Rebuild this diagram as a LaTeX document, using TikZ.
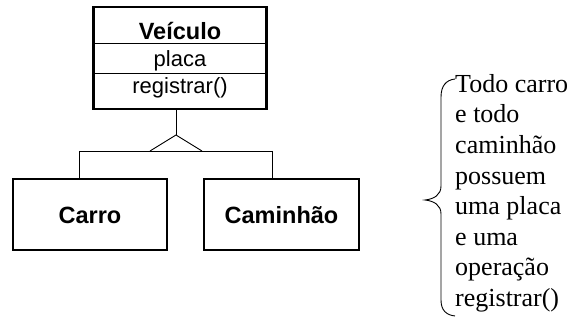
\documentclass[tikz,border=0pt]{standalone}
\usepackage{fontspec}
\setmainfont{Liberation Serif}
\newfontfamily\arialfont{Liberation Sans}
\begin{document}
\begin{tikzpicture}[x=1pt,y=-1pt,
  classbox/.style={draw, line width=2.2pt, rectangle, inner sep=0pt},
  conn/.style={line width=0.9pt},
  boldlbl/.style={font=\arialfont\bfseries\fontsize{23.5}{28}\selectfont, inner sep=0pt, anchor=base},
  reglbl/.style={font=\arialfont\fontsize{22}{26}\selectfont, inner sep=0pt, anchor=base}]
\useasboundingbox (0,0) rectangle (575,323);
% Veiculo class
\node[classbox, minimum width=173pt, minimum height=102pt] (veiculo) at (180,58) {};
\draw[conn] (veiculo.west |- 0,43) -- (veiculo.east |- 0,43);
\draw[conn] (veiculo.west |- 0,73) -- (veiculo.east |- 0,73);
\node[boldlbl] (vname) at (180,40) {Veículo};
\node[reglbl] (vattr) at (180,67) {placa};
\node[reglbl] (vop) at (180,94) {registrar()};
% subclasses
\node[classbox, minimum width=154pt, minimum height=71pt] (carro) at (90,214.5) {};
\node[boldlbl] (carrolbl) at (90,223) {Carro};
\node[classbox, minimum width=155pt, minimum height=71pt] (caminhao) at (281.5,214.5) {};
\node[boldlbl] (caminhaolbl) at (281.5,223) {Caminhão};
% generalization
\coordinate (apex) at (176,135);
\coordinate (bl) at (150,151);
\coordinate (br) at (202,151);
\coordinate (hl) at (79,151);
\coordinate (hr) at (272,151);
\draw[conn] (apex |- veiculo.south) -- (apex);
\draw[conn] (bl) -- (apex) -- (br);
\draw[conn] (hl) -- (hr);
\draw[conn] (hl) -- (hl |- carro.north);
\draw[conn] (hr) -- (hr |- caminhao.north);
% brace
\draw[conn] (455,79) .. controls (446,80) and (441,86) .. (441,97)
  -- (441,186) .. controls (441,195) and (434,199) .. (425,200)
  .. controls (434,201) and (441,205) .. (441,214)
  -- (441,300) .. controls (441,310) and (446,315) .. (455,316);
\node[anchor=north west, inner sep=0pt, align=left, font=\fontsize{26}{30.6}\selectfont] (note) at (455,74)
  {Todo carro\\e todo\\caminhão\\possuem\\uma placa\\e uma\\operação\\registrar()};
\end{tikzpicture}
\end{document}
